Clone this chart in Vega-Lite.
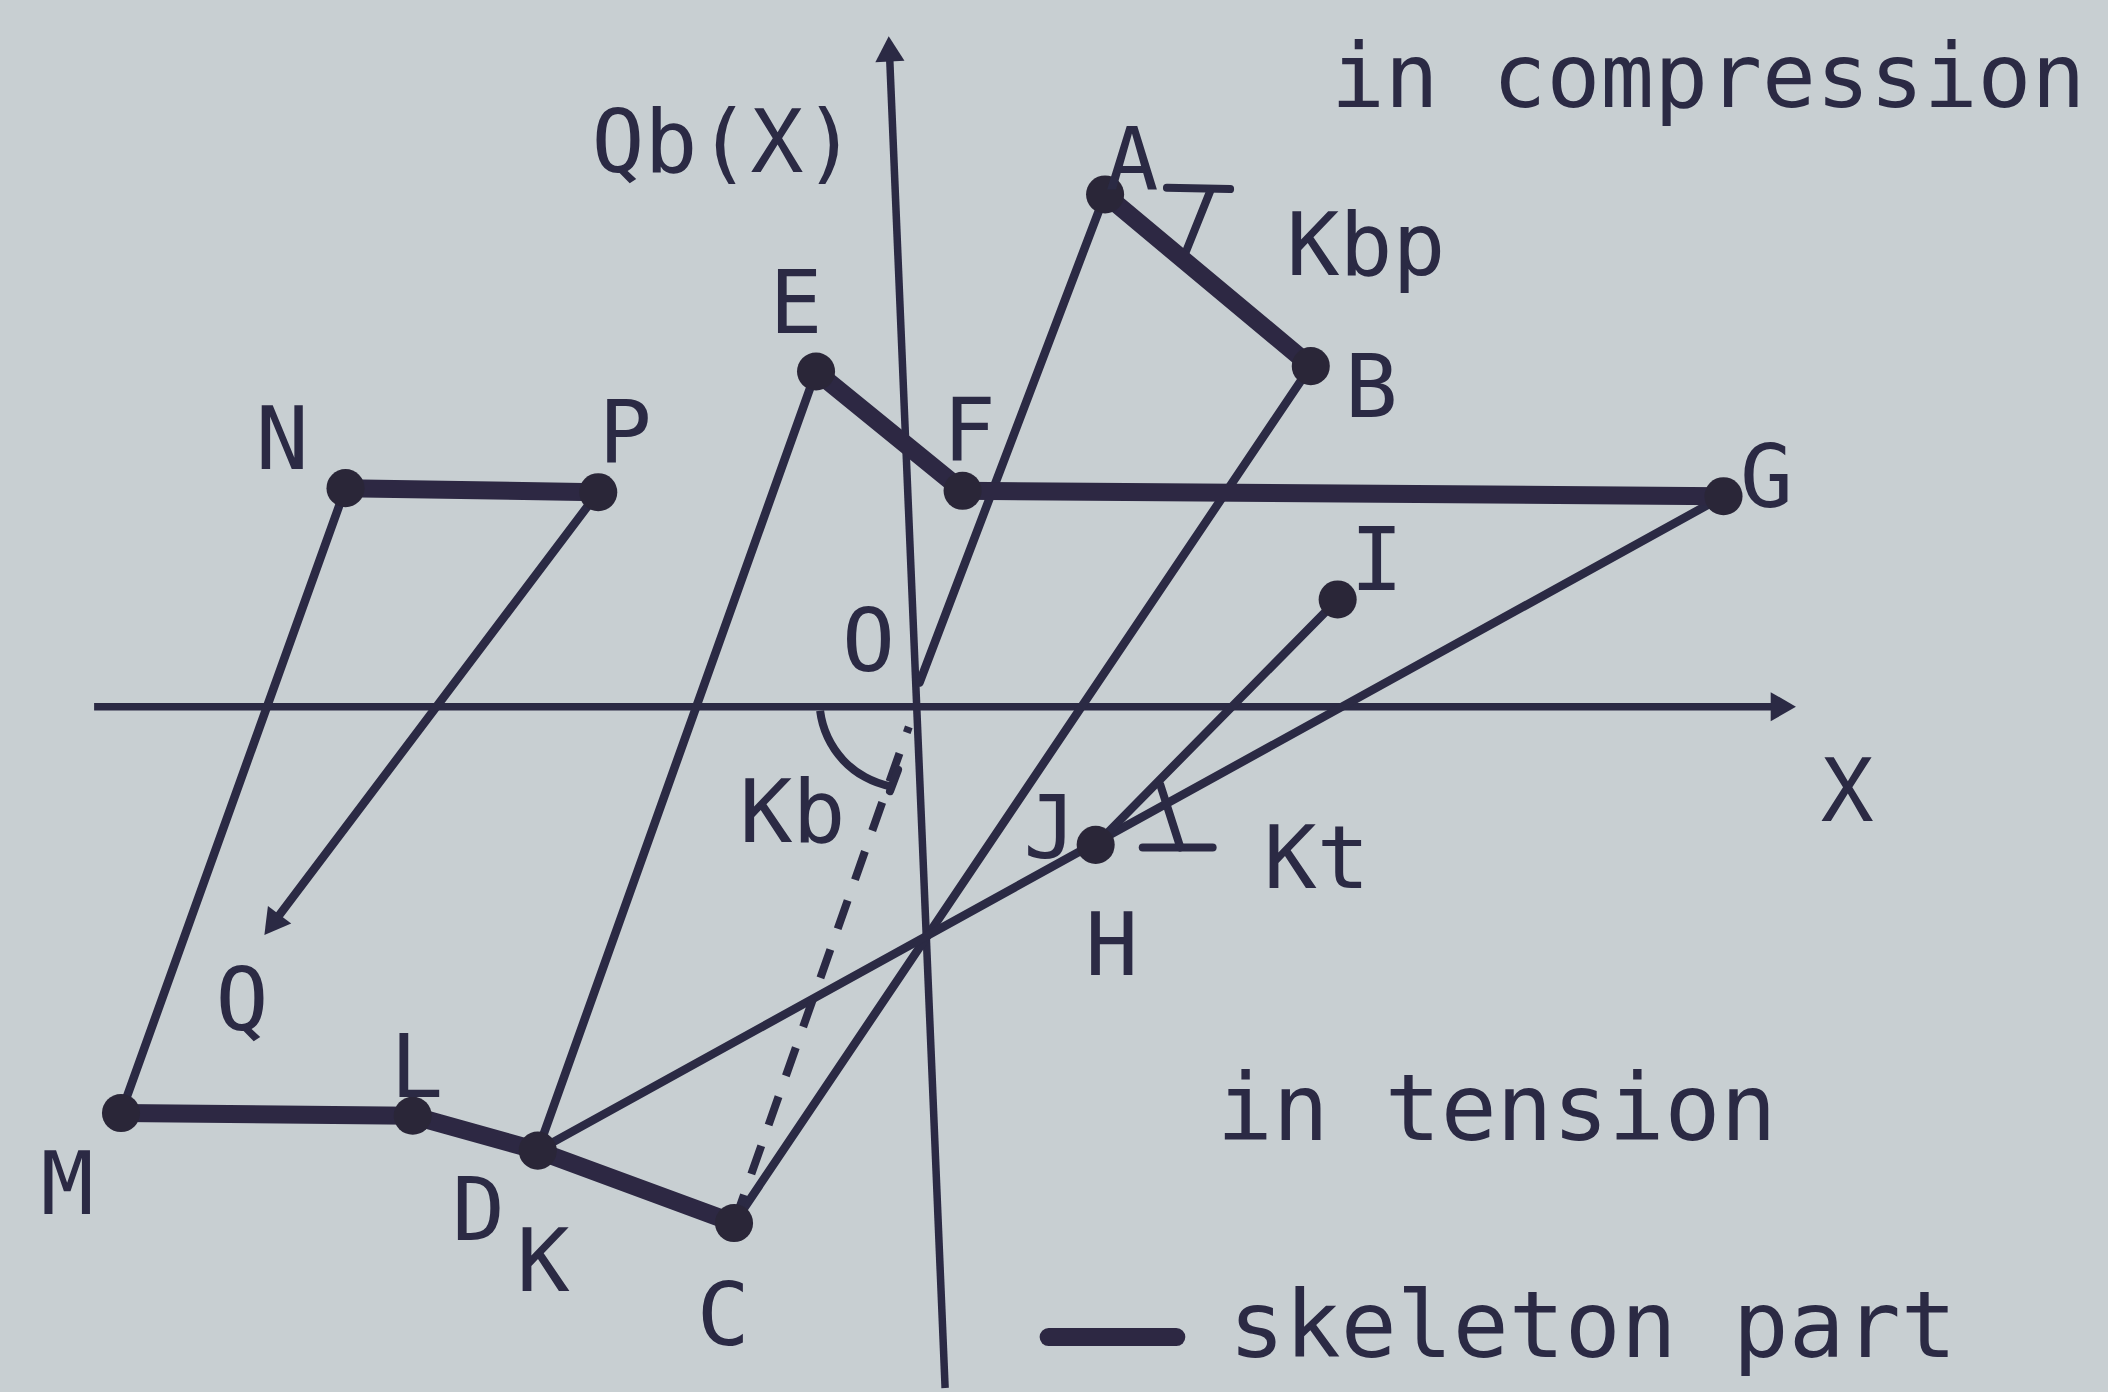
{
  "$schema": "https://vega.github.io/schema/vega-lite/v6.json",
  "width": 2108,
  "height": 1392,
  "autosize": {"type": "fit", "contains": "padding"},
  "padding": 0,
  "background": "#c8cfd2",
  "config": {
    "view": {"stroke": null},
    "text": {"font": "DejaVu Sans Mono", "color": "#2b2a44", "fontSize": 88}
  },
  "datasets": {
    "segments": [
      {"seg": "Qb axis", "part": "axis", "x": 2.2, "y": -50.8, "x2": -1.95, "y2": 49.05},
      {"seg": "X axis", "part": "axis", "x": -61.1, "y": 0, "x2": 64.6, "y2": 0},
      {"seg": "OA", "part": "branch", "x": 0.3, "y": 1.8, "x2": 14.1, "y2": 38.2},
      {"seg": "BC", "part": "branch", "x": 29.4, "y": 25.4, "x2": -13.5, "y2": -38.5},
      {"seg": "EK", "part": "branch", "x": -7.4, "y": 25.0, "x2": -28.1, "y2": -33.1},
      {"seg": "GK", "part": "branch", "x": 60.1, "y": 15.7, "x2": -28.1, "y2": -33.1},
      {"seg": "IJ", "part": "branch", "x": 31.4, "y": 8.0, "x2": 13.4, "y2": -10.3},
      {"seg": "MN", "part": "branch", "x": -59.1, "y": -30.3, "x2": -42.4, "y2": 16.3},
      {"seg": "PQ", "part": "branch", "x": -23.6, "y": 16.0, "x2": -47.6, "y2": -15.9},
      {"seg": "CO", "part": "unloading", "x": -13.5, "y": -38.5, "x2": -0.5, "y2": -1.5},
      {"seg": "AB", "part": "skeleton", "x": 14.1, "y": 38.2, "x2": 29.4, "y2": 25.4},
      {"seg": "EF", "part": "skeleton", "x": -7.4, "y": 25.0, "x2": 3.5, "y2": 16.1},
      {"seg": "FG", "part": "skeleton", "x": 3.5, "y": 16.1, "x2": 60.1, "y2": 15.7},
      {"seg": "NP", "part": "skeleton", "x": -42.4, "y": 16.3, "x2": -23.6, "y2": 16.0},
      {"seg": "ML", "part": "skeleton", "x": -59.1, "y": -30.3, "x2": -37.4, "y2": -30.5},
      {"seg": "LK", "part": "skeleton", "x": -37.4, "y": -30.5, "x2": -28.1, "y2": -33.1},
      {"seg": "KC", "part": "skeleton", "x": -28.1, "y": -33.1, "x2": -13.5, "y2": -38.5},
      {"seg": "legend", "part": "skeleton", "x": 9.9, "y": -47.0, "x2": 19.4, "y2": -47.0},
      {"seg": "Kbp bar", "part": "slope", "x": 18.7, "y": 38.7, "x2": 23.4, "y2": 38.6},
      {"seg": "Kbp stem", "part": "slope", "x": 21.9, "y": 38.4, "x2": 20.1, "y2": 33.9},
      {"seg": "Kt bar", "part": "slope", "x": 16.9, "y": -10.5, "x2": 22.1, "y2": -10.5},
      {"seg": "Kt stem", "part": "slope", "x": 19.7, "y": -10.5, "x2": 18.2, "y2": -5.8},
      {"seg": "Kb barb", "part": "slope", "x": -1.9, "y": -6.3, "x2": -1.3, "y2": -4.7}
    ],
    "points": [
      {"name": "A", "x": 14.1, "y": 38.2},
      {"name": "B", "x": 29.4, "y": 25.4},
      {"name": "E", "x": -7.4, "y": 25.0},
      {"name": "F", "x": 3.5, "y": 16.1},
      {"name": "G", "x": 60.1, "y": 15.7},
      {"name": "N", "x": -42.4, "y": 16.3},
      {"name": "P", "x": -23.6, "y": 16.0},
      {"name": "I", "x": 31.4, "y": 8.0},
      {"name": "J", "x": 13.4, "y": -10.3},
      {"name": "M", "x": -59.1, "y": -30.3},
      {"name": "L", "x": -37.4, "y": -30.5},
      {"name": "K", "x": -28.1, "y": -33.1},
      {"name": "C", "x": -13.5, "y": -38.5}
    ],
    "arrows": [
      {"name": "Qb", "x": -1.95, "y": 49.05},
      {"name": "X", "x": 64.55, "y": 0},
      {"name": "Q", "x": -47.87, "y": -16.26}
    ],
    "angles": [
      {"name": "Kb", "x": -0.6, "y": 0.5}
    ],
    "pointLabels": [
      {"text": "A", "x": 16.1, "y": 38.5},
      {"text": "B", "x": 33.9, "y": 21.6},
      {"text": "E", "x": -8.9, "y": 27.9},
      {"text": "F", "x": 4.0, "y": 18.4},
      {"text": "N", "x": -47.1, "y": 17.7},
      {"text": "P", "x": -21.6, "y": 18.2},
      {"text": "G", "x": 63.3, "y": 14.9},
      {"text": "I", "x": 34.3, "y": 8.7},
      {"text": "O", "x": -3.5, "y": 2.7},
      {"text": "X", "x": 69.3, "y": -8.5},
      {"text": "J", "x": 10.0, "y": -11.3},
      {"text": "H", "x": 14.6, "y": -20.0},
      {"text": "Q", "x": -50.1, "y": -24.1},
      {"text": "L", "x": -37.1, "y": -29.1},
      {"text": "M", "x": -63.1, "y": -37.8},
      {"text": "D", "x": -32.5, "y": -39.8},
      {"text": "K", "x": -27.7, "y": -43.6},
      {"text": "C", "x": -14.3, "y": -47.6}
    ],
    "symbols": [
      {"text": "Qb(X)", "x": -24.1, "y": 39.9},
      {"text": "Kbp", "x": 27.6, "y": 32.2},
      {"text": "Kb", "x": -13.1, "y": -10.1},
      {"text": "Kt", "x": 25.9, "y": -13.5}
    ],
    "captions": [
      {"text": "in compression", "side": "top", "x": 30.9, "y": 44.7},
      {"text": "in tension", "side": "bottom", "x": 22.4, "y": -32.3},
      {"text": "skeleton part", "side": "bottom", "x": 23.3, "y": -48.5}
    ]
  },
  "layer": [
    {
      "data": {"name": "segments"},
      "transform": [{"filter": "datum.part === 'axis'"}],
      "mark": {"type": "rule", "color": "#2b2a44", "strokeWidth": 7.5},
      "encoding": {
        "x": {"field": "x", "type": "quantitative", "scale": {"domain": [-68.1, 88.7], "nice": false, "zero": false}, "axis": null},
        "y": {"field": "y", "type": "quantitative", "scale": {"domain": [-50.8, 52.7], "nice": false, "zero": false}, "axis": null},
        "x2": {"field": "x2"},
        "y2": {"field": "y2"}
      }
    },
    {
      "data": {"name": "segments"},
      "transform": [{"filter": "datum.part === 'branch'"}],
      "mark": {"type": "rule", "color": "#2b2a44", "strokeWidth": 8.5, "strokeCap": "round"},
      "encoding": {
        "x": {"field": "x", "type": "quantitative", "axis": null},
        "y": {"field": "y", "type": "quantitative", "axis": null},
        "x2": {"field": "x2"},
        "y2": {"field": "y2"}
      }
    },
    {
      "data": {"name": "segments"},
      "transform": [{"filter": "datum.part === 'unloading'"}],
      "mark": {"type": "rule", "color": "#2b2a44", "strokeWidth": 8, "strokeDash": [30, 22]},
      "encoding": {
        "x": {"field": "x", "type": "quantitative", "axis": null},
        "y": {"field": "y", "type": "quantitative", "axis": null},
        "x2": {"field": "x2"},
        "y2": {"field": "y2"}
      }
    },
    {
      "data": {"name": "segments"},
      "transform": [{"filter": "datum.part === 'slope'"}],
      "mark": {"type": "rule", "color": "#2b2a44", "strokeWidth": 8, "strokeCap": "round"},
      "encoding": {
        "x": {"field": "x", "type": "quantitative", "axis": null},
        "y": {"field": "y", "type": "quantitative", "axis": null},
        "x2": {"field": "x2"},
        "y2": {"field": "y2"}
      }
    },
    {
      "data": {"name": "segments"},
      "transform": [{"filter": "datum.part === 'skeleton'"}],
      "mark": {"type": "rule", "color": "#2d2843", "strokeWidth": 18, "strokeCap": "round"},
      "encoding": {
        "x": {"field": "x", "type": "quantitative", "axis": null},
        "y": {"field": "y", "type": "quantitative", "axis": null},
        "x2": {"field": "x2"},
        "y2": {"field": "y2"}
      }
    },
    {
      "data": {"name": "angles"},
      "mark": {"type": "arc", "color": "#2b2a44", "theta": 3.33, "theta2": 4.59, "radius": 92, "radius2": 84},
      "encoding": {
        "x": {"field": "x", "type": "quantitative", "axis": null},
        "y": {"field": "y", "type": "quantitative", "axis": null}
      }
    },
    {
      "data": {"name": "points"},
      "mark": {"type": "point", "filled": true, "opacity": 1, "color": "#2a2638", "size": 1450},
      "encoding": {
        "x": {"field": "x", "type": "quantitative", "axis": null},
        "y": {"field": "y", "type": "quantitative", "axis": null}
      }
    },
    {
      "data": {"name": "arrows"},
      "transform": [{"filter": "datum.name === 'Qb'"}],
      "mark": {"type": "point", "shape": "triangle-up", "filled": true, "opacity": 1, "color": "#2b2a44", "size": 850, "angle": 357.3},
      "encoding": {
        "x": {"field": "x", "type": "quantitative", "axis": null},
        "y": {"field": "y", "type": "quantitative", "axis": null}
      }
    },
    {
      "data": {"name": "arrows"},
      "transform": [{"filter": "datum.name === 'X'"}],
      "mark": {"type": "point", "shape": "triangle-right", "filled": true, "opacity": 1, "color": "#2b2a44", "size": 850},
      "encoding": {
        "x": {"field": "x", "type": "quantitative", "axis": null},
        "y": {"field": "y", "type": "quantitative", "axis": null}
      }
    },
    {
      "data": {"name": "arrows"},
      "transform": [{"filter": "datum.name === 'Q'"}],
      "mark": {"type": "point", "shape": "triangle-up", "filled": true, "opacity": 1, "color": "#2b2a44", "size": 850, "angle": 217},
      "encoding": {
        "x": {"field": "x", "type": "quantitative", "axis": null},
        "y": {"field": "y", "type": "quantitative", "axis": null}
      }
    },
    {
      "data": {"name": "pointLabels"},
      "mark": {"type": "text", "align": "center", "baseline": "alphabetic"},
      "encoding": {
        "x": {"field": "x", "type": "quantitative", "axis": null},
        "y": {"field": "y", "type": "quantitative", "axis": null},
        "text": {"field": "text"}
      }
    },
    {
      "data": {"name": "symbols"},
      "mark": {"type": "text", "align": "left", "baseline": "alphabetic"},
      "encoding": {
        "x": {"field": "x", "type": "quantitative", "axis": null},
        "y": {"field": "y", "type": "quantitative", "axis": null},
        "text": {"field": "text"}
      }
    },
    {
      "data": {"name": "captions"},
      "transform": [{"filter": "datum.side === 'top'"}],
      "mark": {"type": "text", "align": "left", "baseline": "alphabetic", "fontSize": 89.5},
      "encoding": {
        "x": {"field": "x", "type": "quantitative", "axis": null},
        "y": {"field": "y", "type": "quantitative", "axis": null},
        "text": {"field": "text"}
      }
    },
    {
      "data": {"name": "captions"},
      "transform": [{"filter": "datum.side === 'bottom'"}],
      "mark": {"type": "text", "align": "left", "baseline": "alphabetic", "fontSize": 93},
      "encoding": {
        "x": {"field": "x", "type": "quantitative", "axis": null},
        "y": {"field": "y", "type": "quantitative", "axis": null},
        "text": {"field": "text"}
      }
    }
  ]
}
